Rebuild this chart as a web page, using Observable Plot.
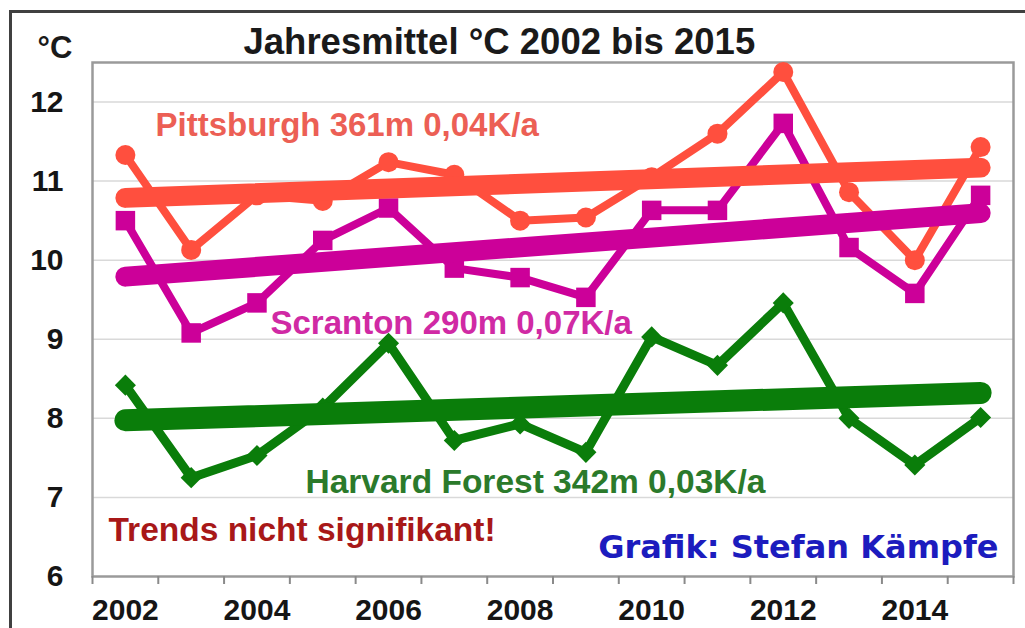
<!DOCTYPE html>
<html>
<head>
<meta charset="utf-8">
<script src="https://cdn.jsdelivr.net/npm/d3@7"></script>
<script src="https://cdn.jsdelivr.net/npm/@observablehq/plot@0.6"></script>
<style>
  html, body { margin: 0; padding: 0; background: #fff; }
  #wrap { position: relative; width: 1025px; height: 628px; overflow: hidden; background: #fff; }
  #wrap svg { position: absolute; left: 0; top: 0; }
  #border { position: absolute; left: 9px; top: 10px; width: 1030px; height: 640px;
            border-top: 3px solid #404040; border-left: 3px solid #404040; pointer-events: none; }
</style>
</head>
<body>
<div id="wrap"><div id="border"></div></div>
<script>
// ---- data ----
const years = [2002, 2003, 2004, 2005, 2006, 2007, 2008, 2009, 2010, 2011, 2012, 2013, 2014, 2015];
const pittsburgh = [11.33, 10.13, 10.82, 10.75, 11.24, 11.08, 10.50, 10.54, 11.05, 11.60, 12.38, 10.86, 10.00, 11.43];
const scranton   = [10.50, 9.08, 9.46, 10.25, 10.66, 9.90, 9.78, 9.53, 10.63, 10.63, 11.73, 10.16, 9.58, 10.82];
const harvard    = [8.42, 7.25, 7.53, 8.13, 8.95, 7.72, 7.93, 7.57, 9.03, 8.67, 9.46, 8.00, 7.41, 8.01];
const yTicks = [6, 7, 8, 9, 10, 11, 12];
const xLabelYears = [2002, 2004, 2006, 2008, 2010, 2012, 2014];

const titleText = "Jahresmittel °C 2002 bis 2015";
const unitText = "°C";
const labelPitt = "Pittsburgh 361m 0,04K/a";
const labelScr = "Scranton 290m 0,07K/a";
const labelHarv = "Harvard Forest 342m 0,03K/a";
const noteText = "Trends nicht signifikant!";
const creditText = "Grafik: Stefan Kämpfe";

const colPitt = "#ff4f3e";
const colScr = "#cc0099";
const colHarv = "#0a7d0a";

const toRows = (vals) => years.map((year, i) => ({year, value: vals[i]}));
const pRows = toRows(pittsburgh);
const sRows = toRows(scranton);
const hRows = toRows(harvard);
const bandEdges = [...years.map(y => y - 0.5), years[years.length - 1] + 0.5];

const font = "'Liberation Sans', Arial, sans-serif";

const chart = Plot.plot({
  width: 1025,
  height: 628,
  marginLeft: 92,
  marginRight: 12,
  marginTop: 62,
  marginBottom: 52,
  style: {fontFamily: font, background: "transparent", overflow: "visible"},
  x: {domain: [years[0] - 0.5, years[years.length - 1] + 0.5], label: null},
  y: {domain: [6, 12.5], label: null},
  marks: [
    Plot.gridY(yTicks.filter(t => t > 6), {stroke: "#d9d9d9", strokeOpacity: 1, strokeWidth: 1.5}),
    Plot.frame({stroke: "#9a9a9a", strokeWidth: 2.5}),
    // x axis: boundary tick marks + year labels
    Plot.axisX(bandEdges, {tickSize: 8, stroke: "#8a8a8a", strokeWidth: 2, tickFormat: () => "", label: null}),
    Plot.axisX(xLabelYears, {tickSize: 0, tickPadding: 22, tickFormat: d => String(d), label: null,
      fontSize: 30, fontWeight: "bold", fill: "#151515"}),
    Plot.axisY(yTicks, {tickSize: 0, tickPadding: 29, tickFormat: d => String(d), label: null,
      fontSize: 30, fontWeight: "bold", fill: "#151515"}),
    // data lines
    Plot.line(pRows, {x: "year", y: "value", stroke: colPitt, strokeWidth: 8, strokeLinejoin: "round"}),
    Plot.dot(pRows, {x: "year", y: "value", fill: colPitt, r: 10, symbol: "circle"}),
    Plot.line(sRows, {x: "year", y: "value", stroke: colScr, strokeWidth: 8, strokeLinejoin: "miter"}),
    Plot.dot(sRows, {x: "year", y: "value", fill: colScr, r: 11, symbol: "square"}),
    Plot.line(hRows, {x: "year", y: "value", stroke: colHarv, strokeWidth: 9, strokeLinejoin: "miter"}),
    Plot.dot(hRows, {x: "year", y: "value", fill: colHarv, r: 9.5, symbol: "diamond2"}),
    // trend lines (linear regression)
    Plot.linearRegressionY(sRows, {x: "year", y: "value", stroke: colScr, strokeWidth: 20, ci: 0, strokeLinecap: "round"}),
    Plot.linearRegressionY(pRows, {x: "year", y: "value", stroke: colPitt, strokeWidth: 20, ci: 0, strokeLinecap: "round"}),
    Plot.linearRegressionY(hRows, {x: "year", y: "value", stroke: colHarv, strokeWidth: 22, ci: 0, strokeLinecap: "round"}),
    // texts
    Plot.text([titleText], {frameAnchor: "top-left", textAnchor: "start", lineAnchor: "bottom", dx: 151, dy: -9,
      fontSize: 36.5, fontWeight: "bold", fill: "#1a1a1a"}),
    Plot.text([unitText], {frameAnchor: "top-left", textAnchor: "start", lineAnchor: "bottom", dx: -55, dy: -5,
      fontSize: 31, fontWeight: "bold", fill: "#1a1a1a"}),
    Plot.text([labelPitt], {frameAnchor: "top-left", textAnchor: "start", lineAnchor: "bottom", dx: 63, dy: 73,
      fontSize: 33, fontWeight: "bold", fill: "#ec5f55"}),
    Plot.text([labelScr], {frameAnchor: "top-left", textAnchor: "start", lineAnchor: "bottom", dx: 178, dy: 271,
      fontSize: 33, fontWeight: "bold", fill: "#d02aa4"}),
    Plot.text([labelHarv], {frameAnchor: "top-left", textAnchor: "start", lineAnchor: "bottom", dx: 213, dy: 430,
      fontSize: 33.5, fontWeight: "bold", fill: "#2b7a2b"}),
    Plot.text([noteText], {frameAnchor: "top-left", textAnchor: "start", lineAnchor: "bottom", dx: 16, dy: 478,
      fontSize: 33.5, fontWeight: "bold", fill: "#a81818"}),
    Plot.text([creditText], {frameAnchor: "top-right", textAnchor: "end", lineAnchor: "bottom", dx: -15, dy: 495,
      fontSize: 32, fontWeight: "bold", fill: "#1c1cbe", fontFamily: "'DejaVu Sans', Verdana, sans-serif"})
  ]
});
document.getElementById("wrap").prepend(chart);
</script>
</body>
</html>
